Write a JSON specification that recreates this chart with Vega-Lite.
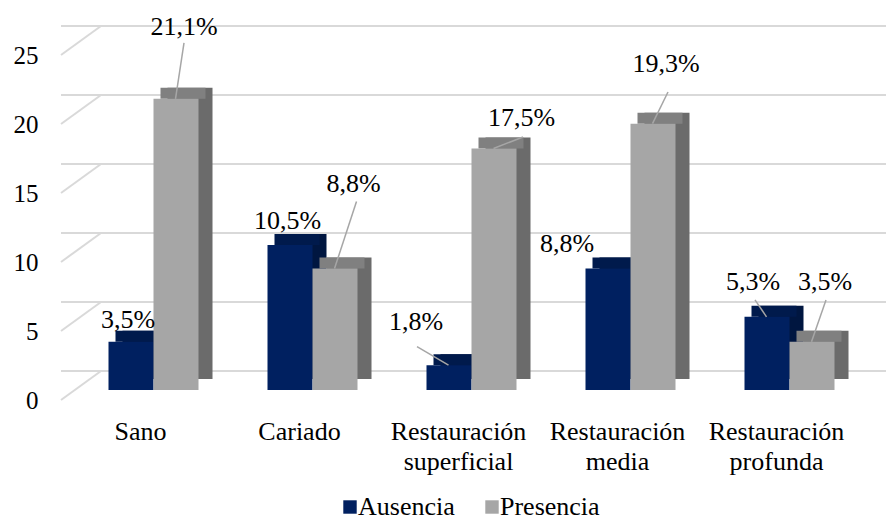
{
  "$schema": "https://vega.github.io/schema/vega-lite/v6.json",
  "width": 795,
  "height": 345,
  "autosize": {"type": "none"},
  "padding": {"left": 61, "top": 55, "right": 30, "bottom": 120},
  "background": "white",
  "config": {"view": {"stroke": null}, "font": "Liberation Serif"},
  "layer": [
    {
      "data": {"values": [{"g": 0}, {"g": 5}, {"g": 10}, {"g": 15}, {"g": 20}, {"g": 25}]},
      "mark": {"type": "rule", "color": "#d9d9d9", "strokeWidth": 2, "xOffset": 40, "x2Offset": 40, "yOffset": -29},
      "encoding": {
        "y": {"field": "g", "type": "quantitative", "scale": {"domain": [0, 25], "nice": false},
          "axis": {"title": null, "values": [0, 5, 10, 15, 20, 25], "grid": false, "domain": false, "ticks": false, "labelPadding": 23, "labelFont": "Liberation Serif", "labelFontSize": 25, "labelColor": "#000"}}
      }
    },
    {
      "data": {"values": [{"g": 0}, {"g": 5}, {"g": 10}, {"g": 15}, {"g": 20}, {"g": 25}]},
      "mark": {"type": "rule", "color": "#d9d9d9", "strokeWidth": 2, "y2Offset": -29},
      "encoding": {
        "x": {"value": 0},
        "x2": {"value": 40},
        "y": {"field": "g", "type": "quantitative", "scale": {"domain": [0, 25], "nice": false},
          "axis": {"title": null, "values": [0, 5, 10, 15, 20, 25], "grid": false, "domain": false, "ticks": false, "labelPadding": 23, "labelFont": "Liberation Serif", "labelFontSize": 25, "labelColor": "#000"}},
        "y2": {"field": "g"}
      }
    },
    {
      "data": {"values": [
        {"cat": "Sano", "serie": "Ausencia", "v": 3.5, "lbl": "3,5%"},
        {"cat": "Sano", "serie": "Presencia", "v": 21.1, "lbl": "21,1%"},
        {"cat": "Cariado", "serie": "Ausencia", "v": 10.5, "lbl": "10,5%"},
        {"cat": "Cariado", "serie": "Presencia", "v": 8.8, "lbl": "8,8%"},
        {"cat": "Restauración superficial", "serie": "Ausencia", "v": 1.8, "lbl": "1,8%"},
        {"cat": "Restauración superficial", "serie": "Presencia", "v": 17.5, "lbl": "17,5%"},
        {"cat": "Restauración media", "serie": "Ausencia", "v": 8.8, "lbl": "8,8%"},
        {"cat": "Restauración media", "serie": "Presencia", "v": 19.3, "lbl": "19,3%"},
        {"cat": "Restauración profunda", "serie": "Ausencia", "v": 5.3, "lbl": "5,3%"},
        {"cat": "Restauración profunda", "serie": "Presencia", "v": 3.5, "lbl": "3,5%"}
      ]},
      "resolve": {"scale": {"xOffset": "independent"}},
      "encoding": {
        "x": {"field": "cat", "type": "nominal",
          "sort": ["Sano", "Cariado", "Restauración superficial", "Restauración media", "Restauración profunda"],
          "scale": {"paddingInner": 0.434, "paddingOuter": 0.217},
          "axis": {"title": null, "domain": false, "ticks": false, "labelAngle": 0, "labelPadding": 18, "labelFont": "Liberation Serif", "labelFontSize": 26, "labelColor": "#000", "labelExpr": "split(datum.label, ' ')", "labelLineHeight": 30, "labelLimit": 0}},
        "xOffset": {"field": "serie", "type": "nominal", "scale": {"type": "band", "domain": ["Ausencia", "Presencia"], "range": [0, 90], "paddingInner": 0, "paddingOuter": 0}},
        "y": {"field": "v", "type": "quantitative", "stack": null, "scale": {"domain": [0, 25], "nice": false},
          "axis": {"title": null, "values": [0, 5, 10, 15, 20, 25], "grid": false, "domain": false, "ticks": false, "labelPadding": 23, "labelFont": "Liberation Serif", "labelFontSize": 25, "labelColor": "#000"}}
      },
      "layer": [
        {
          "mark": {"type": "bar", "yOffset": -21, "y2Offset": -21},
          "encoding": {
            "xOffset": {"field": "serie", "type": "nominal", "scale": {"type": "band", "domain": ["Ausencia", "Presencia"], "range": [27, 117], "paddingInner": 0, "paddingOuter": 0}},
            "y2": {"datum": 0},
            "fill": {"condition": {"test": "datum.serie === 'Ausencia'", "value": "#001640"}, "value": "#6b6b6b"}}
        },
        {
          "mark": {"type": "bar", "yOffset": -21, "y2Offset": -10},
          "encoding": {
            "xOffset": {"field": "serie", "type": "nominal", "scale": {"type": "band", "domain": ["Ausencia", "Presencia"], "range": [20, 110], "paddingInner": 0, "paddingOuter": 0}},
            "y2": {"field": "v"},
            "fill": {"condition": {"test": "datum.serie === 'Ausencia'", "value": "#001a4c"}, "value": "#808080"}}
        },
        {
          "mark": {"type": "bar", "yOffset": -10, "y2Offset": -10},
          "encoding": {
            "xOffset": {"field": "serie", "type": "nominal", "scale": {"type": "band", "domain": ["Ausencia", "Presencia"], "range": [13, 103], "paddingInner": 0, "paddingOuter": 0}},
            "y2": {"datum": 0},
            "color": {"field": "serie", "type": "nominal",
            "scale": {"domain": ["Ausencia", "Presencia"], "range": ["#002060", "#a6a6a6"]},
            "legend": {"title": null, "orient": "none", "legendX": 276, "legendY": 439, "direction": "horizontal", "symbolType": "square", "symbolSize": 180, "symbolStrokeWidth": 0, "labelFont": "Liberation Serif", "labelFontSize": 26, "labelColor": "#000", "columnPadding": 24, "labelOffset": -5}}}
        },
        {
          "encoding": {
            "xOffset": {"field": "serie", "type": "nominal", "scale": {"type": "band", "domain": ["Ausencia", "Presencia"], "range": [12.5, 102.5], "paddingInner": 0, "paddingOuter": 0}},
            "x2": {"field": "cat"},
            "y2": {"field": "v"}
          },
          "layer": [
            {"transform": [{"filter": "datum.cat === 'Sano' && datum.serie === 'Presencia'"}],
             "mark": {"type": "rule", "color": "#a6a6a6", "strokeWidth": 1.5, "yOffset": -10, "x2Offset": 43.5, "y2Offset": -66}},
            {"transform": [{"filter": "datum.cat === 'Cariado' && datum.serie === 'Presencia'"}],
             "mark": {"type": "rule", "color": "#a6a6a6", "strokeWidth": 1.5, "yOffset": -10, "x2Offset": 57, "y2Offset": -77}},
            {"transform": [{"filter": "datum.cat === 'Restauración superficial' && datum.serie === 'Ausencia'"}],
             "mark": {"type": "rule", "color": "#a6a6a6", "strokeWidth": 1.5, "yOffset": -10, "x2Offset": -41.5, "y2Offset": -28.5}},
            {"transform": [{"filter": "datum.cat === 'Restauración superficial' && datum.serie === 'Presencia'"}],
             "mark": {"type": "rule", "color": "#a6a6a6", "strokeWidth": 1.5, "yOffset": -10, "x2Offset": 64.5, "y2Offset": -21.5}},
            {"transform": [{"filter": "datum.cat === 'Restauración media' && datum.serie === 'Presencia'"}],
             "mark": {"type": "rule", "color": "#a6a6a6", "strokeWidth": 1.5, "yOffset": -10, "x2Offset": 50.5, "y2Offset": -41.7}},
            {"transform": [{"filter": "datum.cat === 'Restauración profunda' && datum.serie === 'Ausencia'"}],
             "mark": {"type": "rule", "color": "#a6a6a6", "strokeWidth": 1.5, "yOffset": -10, "x2Offset": -21.5, "y2Offset": -27}},
            {"transform": [{"filter": "datum.cat === 'Restauración profunda' && datum.serie === 'Presencia'"}],
             "mark": {"type": "rule", "color": "#a6a6a6", "strokeWidth": 1.5, "yOffset": -10, "x2Offset": 49.5, "y2Offset": -51.7}}
          ]
        },
        {"transform": [{"filter": "datum.cat === 'Sano' && datum.serie === 'Ausencia'"}],
         "mark": {"type": "text", "dx": 10, "dy": -24, "baseline": "alphabetic", "align": "center", "fontSize": 26, "color": "#000"},
         "encoding": {"text": {"field": "lbl"}}},
        {"transform": [{"filter": "datum.cat === 'Sano' && datum.serie === 'Presencia'"}],
         "mark": {"type": "text", "dx": 21, "dy": -74, "baseline": "alphabetic", "align": "center", "fontSize": 26, "color": "#000"},
         "encoding": {"text": {"field": "lbl"}}},
        {"transform": [{"filter": "datum.cat === 'Cariado' && datum.serie === 'Ausencia'"}],
         "mark": {"type": "text", "dx": 10.5, "dy": -26, "baseline": "alphabetic", "align": "center", "fontSize": 26, "color": "#000"},
         "encoding": {"text": {"field": "lbl"}}},
        {"transform": [{"filter": "datum.cat === 'Cariado' && datum.serie === 'Presencia'"}],
         "mark": {"type": "text", "dx": 31.5, "dy": -87, "baseline": "alphabetic", "align": "center", "fontSize": 26, "color": "#000"},
         "encoding": {"text": {"field": "lbl"}}},
        {"transform": [{"filter": "datum.cat === 'Restauración superficial' && datum.serie === 'Ausencia'"}],
         "mark": {"type": "text", "dx": -20, "dy": -45, "baseline": "alphabetic", "align": "center", "fontSize": 26, "color": "#000"},
         "encoding": {"text": {"field": "lbl"}}},
        {"transform": [{"filter": "datum.cat === 'Restauración superficial' && datum.serie === 'Presencia'"}],
         "mark": {"type": "text", "dx": 40.5, "dy": -32.5, "baseline": "alphabetic", "align": "center", "fontSize": 26, "color": "#000"},
         "encoding": {"text": {"field": "lbl"}}},
        {"transform": [{"filter": "datum.cat === 'Restauración media' && datum.serie === 'Ausencia'"}],
         "mark": {"type": "text", "dx": -28, "dy": -27, "baseline": "alphabetic", "align": "center", "fontSize": 26, "color": "#000"},
         "encoding": {"text": {"field": "lbl"}}},
        {"transform": [{"filter": "datum.cat === 'Restauración media' && datum.serie === 'Presencia'"}],
         "mark": {"type": "text", "dx": 26, "dy": -61.4, "baseline": "alphabetic", "align": "center", "fontSize": 26, "color": "#000"},
         "encoding": {"text": {"field": "lbl"}}},
        {"transform": [{"filter": "datum.cat === 'Restauración profunda' && datum.serie === 'Ausencia'"}],
         "mark": {"type": "text", "dx": -1, "dy": -37, "baseline": "alphabetic", "align": "center", "fontSize": 26, "color": "#000"},
         "encoding": {"text": {"field": "lbl"}}},
        {"transform": [{"filter": "datum.cat === 'Restauración profunda' && datum.serie === 'Presencia'"}],
         "mark": {"type": "text", "dx": 26, "dy": -62, "baseline": "alphabetic", "align": "center", "fontSize": 26, "color": "#000"},
         "encoding": {"text": {"field": "lbl"}}}
      ]
    }
  ]
}
